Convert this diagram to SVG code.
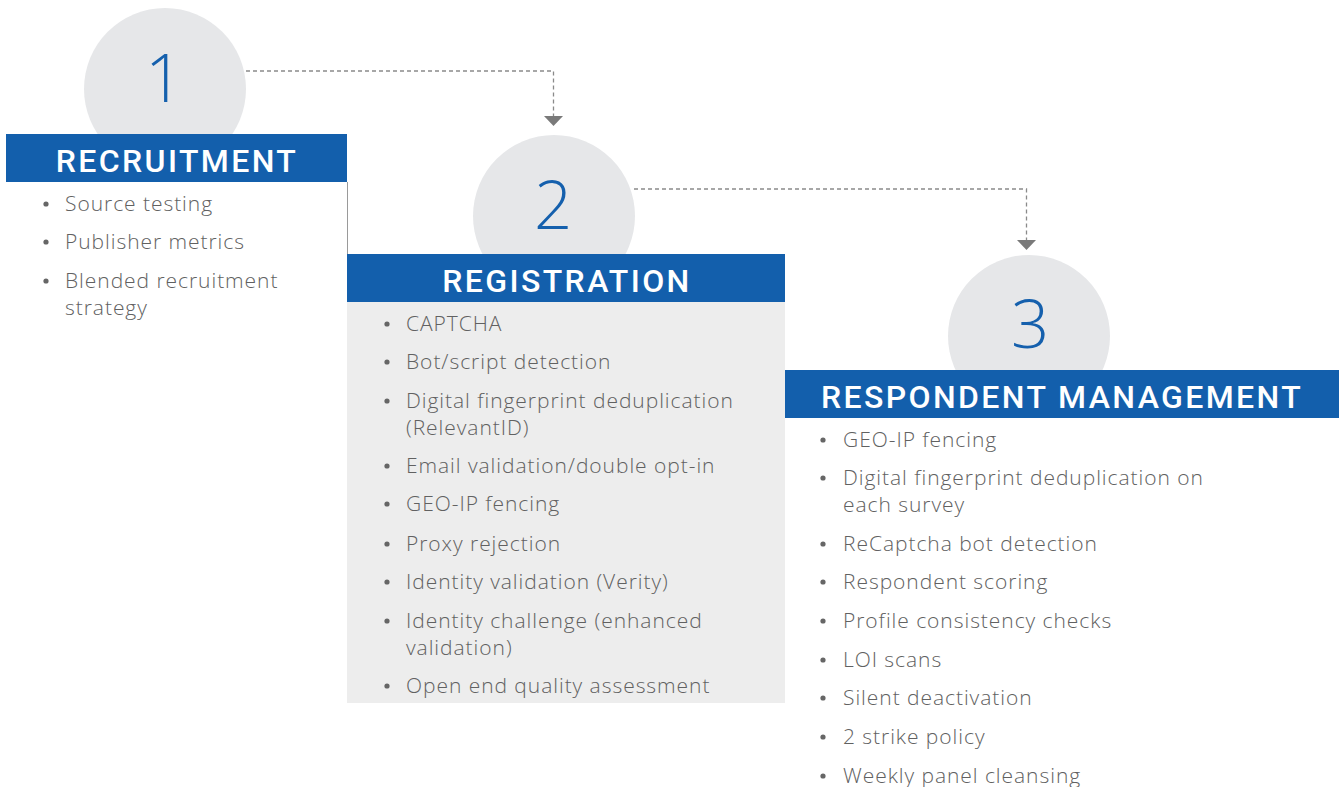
<svg xmlns="http://www.w3.org/2000/svg" width="1339" height="787" viewBox="0 0 1339 787">
<defs>
<style>
.circ{fill:#e6e7e9}
.num{font-family:"Open Sans","Noto Sans",sans-serif;font-weight:300;font-size:67px;fill:#1560ad;text-anchor:middle}
.hdr{fill:#135fac}
.htx{font-family:Roboto,"Noto Sans",sans-serif;font-weight:500;font-size:32px;letter-spacing:2.4px;fill:#ffffff;text-anchor:middle}
.item{font-family:"Open Sans","Noto Sans",sans-serif;font-weight:300;font-size:21px;letter-spacing:0.95px;fill:#616161}
.bul{fill:#666666}
.conn{fill:none;stroke:#8a8a8a;stroke-width:1.3;stroke-dasharray:4 3}
</style>
</defs>
<rect width="1339" height="787" fill="#ffffff"/>

<g id="connectors">
<path class="conn" d="M246,71 H553.5 V116"/>
<path d="M544,116 L563,116 L553.5,126 Z" fill="#7a7a7a"/>
<path class="conn" d="M634,189 H1026.5 V240"/>
<path d="M1017,240 L1036,240 L1026.5,250 Z" fill="#7a7a7a"/>
</g>

<g id="step1">
<circle class="circ" cx="165" cy="89" r="81"/>
<text class="num" x="164" y="102">1</text>
<line x1="347.5" y1="182" x2="347.5" y2="254" stroke="#9a9a9a" stroke-width="1"/>
<rect class="hdr" x="6" y="134" width="341" height="48"/>
<text class="htx" x="177" y="172">RECRUITMENT</text>
<g class="item">
<circle class="bul" cx="46" cy="204" r="2.6"/><text x="65" y="211">Source testing</text>
<circle class="bul" cx="46" cy="242" r="2.6"/><text x="65" y="249">Publisher metrics</text>
<circle class="bul" cx="46" cy="281" r="2.6"/><text x="65" y="288">Blended recruitment</text>
<text x="65" y="315">strategy</text>
</g>
</g>

<g id="step2">
<rect x="347" y="302" width="438" height="401" fill="#ededed"/>
<circle class="circ" cx="554" cy="216" r="81"/>
<text class="num" x="553" y="229">2</text>
<rect class="hdr" x="347" y="254" width="438" height="48"/>
<text class="htx" x="567" y="292">REGISTRATION</text>
<g class="item">
<circle class="bul" cx="387" cy="324" r="2.6"/><text x="406" y="331">CAPTCHA</text>
<circle class="bul" cx="387" cy="362" r="2.6"/><text x="406" y="369">Bot/script detection</text>
<circle class="bul" cx="387" cy="401" r="2.6"/><text x="406" y="408">Digital fingerprint deduplication</text>
<text x="406" y="435">(RelevantID)</text>
<circle class="bul" cx="387" cy="466" r="2.6"/><text x="406" y="473">Email validation/double opt-in</text>
<circle class="bul" cx="387" cy="504" r="2.6"/><text x="406" y="511">GEO-IP fencing</text>
<circle class="bul" cx="387" cy="544" r="2.6"/><text x="406" y="551">Proxy rejection</text>
<circle class="bul" cx="387" cy="582" r="2.6"/><text x="406" y="589">Identity validation (Verity)</text>
<circle class="bul" cx="387" cy="621" r="2.6"/><text x="406" y="628">Identity challenge (enhanced</text>
<text x="406" y="655">validation)</text>
<circle class="bul" cx="387" cy="686" r="2.6"/><text x="406" y="693">Open end quality assessment</text>
</g>
</g>

<g id="step3">
<circle class="circ" cx="1029" cy="336" r="81"/>
<text class="num" x="1030" y="348">3</text>
<rect class="hdr" x="785" y="370" width="554" height="48"/>
<text class="htx" x="1062" y="408">RESPONDENT MANAGEMENT</text>
<g class="item">
<circle class="bul" cx="823" cy="440" r="2.6"/><text x="843" y="447">GEO-IP fencing</text>
<circle class="bul" cx="823" cy="478" r="2.6"/><text x="843" y="485">Digital fingerprint deduplication on</text>
<text x="843" y="512">each survey</text>
<circle class="bul" cx="823" cy="544" r="2.6"/><text x="843" y="551">ReCaptcha bot detection</text>
<circle class="bul" cx="823" cy="582" r="2.6"/><text x="843" y="589">Respondent scoring</text>
<circle class="bul" cx="823" cy="621" r="2.6"/><text x="843" y="628">Profile consistency checks</text>
<circle class="bul" cx="823" cy="660" r="2.6"/><text x="843" y="667">LOI scans</text>
<circle class="bul" cx="823" cy="698" r="2.6"/><text x="843" y="705">Silent deactivation</text>
<circle class="bul" cx="823" cy="737" r="2.6"/><text x="843" y="744">2 strike policy</text>
<circle class="bul" cx="823" cy="776" r="2.6"/><text x="843" y="783">Weekly panel cleansing</text>
</g>
</g>
</svg>
